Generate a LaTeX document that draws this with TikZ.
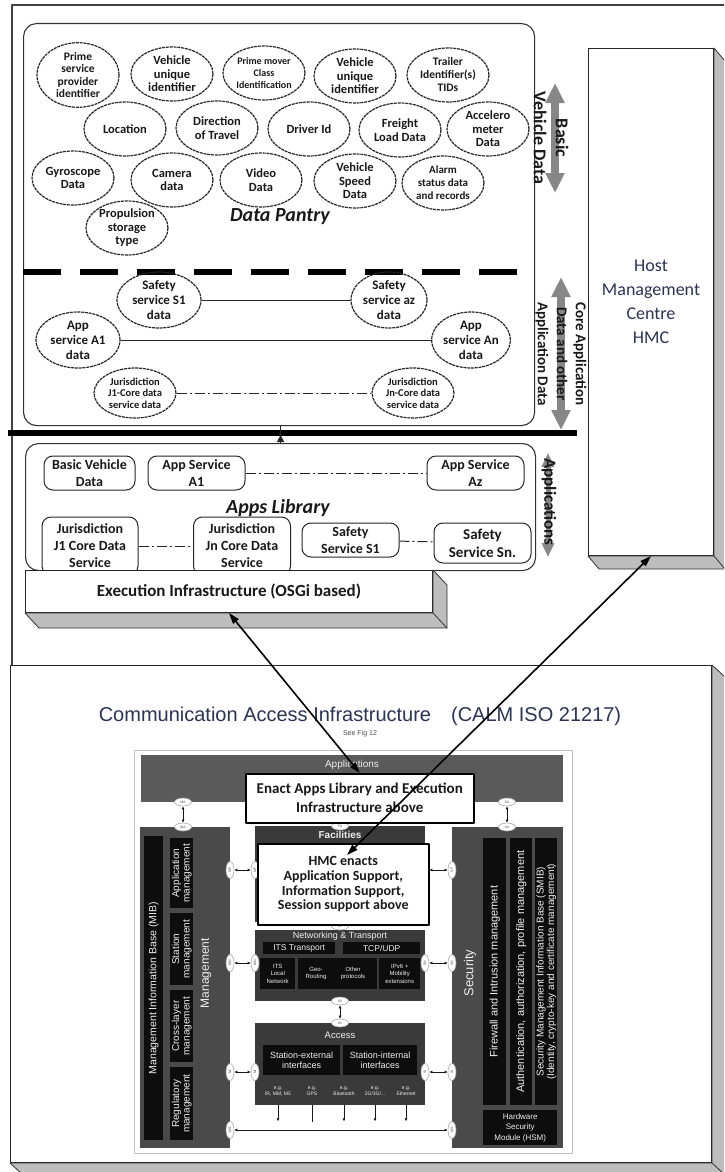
\documentclass[tikz,border=0pt]{standalone}
\usepackage{fontspec}
\setmainfont{Carlito}
\newfontfamily\arialf{Liberation Sans}
\usetikzlibrary{shapes.geometric,arrows.meta,calc}

\definecolor{inkblue}{HTML}{2B3450}
\definecolor{sidegray}{HTML}{BDBDBD}
\definecolor{flowgray}{HTML}{878787}
\definecolor{calmbar}{HTML}{5A5A5A}
\definecolor{calmcol}{HTML}{4A4A4A}
\definecolor{calmblk}{HTML}{3A3A3A}
\definecolor{calmin}{HTML}{0D0D0D}
\definecolor{calmtxt}{HTML}{EEEEEE}

% font helpers: Arial-like sans and bold Calibri-like text
\newcommand\cf[2]{\arialf\fontsize{#1}{#2}\selectfont}
\newcommand\cbf[2]{\bfseries\fontsize{#1}{#2}\selectfont}

% right and bottom faces of a raised (3D) box
\newcommand\raisedfaces[3]{%
  \filldraw[fill=sidegray, draw=black!80, line width=0.8pt]
    (#1.north east) -- ++(#2,#3) -- ($(#1.south east)+(#2,#3)$)
    -- ($(#1.south west)+(#2,#3)$) -- (#1.south west) -- (#1.south east) -- cycle;
  \draw[black!80, line width=0.8pt] (#1.south east) -- ++(#2,#3);}

\begin{document}
\begin{tikzpicture}[x=1pt, y=-1pt, line join=round,
  dataov/.style={ellipse, draw=black!85, line width=1.2pt, dash pattern=on 3pt off 0.8pt,
    minimum width=82pt, minimum height=54pt, inner sep=0pt, align=center,
    text=black!90, font=\cbf{12.5}{13.5}},
  coreov/.style={dataov, minimum width=84pt, minimum height=56pt, font=\cbf{13}{15}},
  jurov/.style={dataov, minimum width=82pt, minimum height=50pt, font=\cbf{10.5}{11.5}},
  appbox/.style={draw=black!85, line width=1pt, rounded corners=9pt, fill=white,
    minimum width=97pt, minimum height=34pt, inner sep=1pt, align=center,
    text=black!90, font=\cbf{14}{17}},
  panel/.style={draw=black!80, line width=1.1pt, rounded corners=13pt, anchor=north west, inner sep=0pt},
  flatbox/.style={draw=black!85, line width=1pt, fill=white, anchor=north west, inner sep=0pt},
  link/.style={black!85, line width=1pt},
  dashdot/.style={link, dash pattern=on 10pt off 3pt on 2pt off 3pt},
  flow/.style={flowgray, line width=8pt, {Triangle[length=20pt,width=18pt]}-{Triangle[length=20pt,width=18pt]}},
  flowsmall/.style={flowgray, line width=5pt, {Triangle[length=14pt,width=12pt]}-{Triangle[length=14pt,width=12pt]}},
  sidelabel/.style={rotate=-90, align=center, text=black!90},
  bigarrow/.style={black, line width=1.6pt, {Triangle[length=11pt,width=7pt]}-{Triangle[length=11pt,width=7pt]}},
  calmblock/.style={anchor=north west, inner sep=0pt, draw=none, fill=#1},
  inbox/.style={anchor=north west, inner sep=0pt, fill=calmin, text=calmtxt, align=center},
  ctext/.style={text=calmtxt, align=center, inner sep=0pt},
  saph/.style={ellipse, fill=white, draw=black!35, line width=0.6pt, minimum width=17pt,
    minimum height=8pt, inner sep=0pt, text=black!70, font=\cf{3.5}{3.5}},
  sapv/.style={saph, rotate=90},
  sapar/.style={black!90, line width=1pt, {Latex[length=3pt,width=3pt]}-{Latex[length=3pt,width=3pt]}},
  egar/.style={black!90, line width=0.8pt, -{Latex[length=3pt,width=3pt]}},
  notebox/.style={draw=black, line width=1.5pt, fill=white, anchor=north west, inner sep=0pt,
    align=center, text=black!90},
]
\useasboundingbox (0,0) rectangle (724,1172);
\fill[white] (0,0) rectangle (724,1172);
\clip (0,0) rectangle (724,1172);

% outer frame of the vehicle platform
\draw[black!75, line width=1.5pt] (740,5) -- (12,5) -- (12,665);

% ---------------- Data pantry ----------------
\node[panel, minimum width=511pt, minimum height=402pt] (dp) at (23,23) {};
\node[dataov, font=\cbf{11.5}{12.5}] (psp) at (78,75) {Prime\\service\\provider\\identifier};
\node[dataov] (vui1) at (172,74) {Vehicle\\unique\\identifier};
\node[dataov, font=\cbf{10}{12}] (pmc) at (264,73) {Prime mover\\Class\\Identification};
\node[dataov] (vui2) at (355,76) {Vehicle\\unique\\identifier};
\node[dataov, font=\cbf{11.5}{13}] (tid) at (448,75) {Trailer\\Identifier(s)\\TIDs};
\node[dataov] (loc) at (125,129) {Location};
\node[dataov] (dir) at (217,128) {Direction\\of Travel};
\node[dataov] (drv) at (309,129) {Driver Id};
\node[dataov] (frt) at (400,130) {Freight\\Load Data};
\node[dataov] (acm) at (488,129) {Accelero\\meter\\Data};
\node[dataov] (gyr) at (73,178) {Gyroscope\\Data};
\node[dataov] (cam) at (172,180) {Camera\\data};
\node[dataov] (vid) at (261,180) {Video\\Data};
\node[dataov] (spd) at (355,181) {Vehicle\\Speed\\Data};
\node[dataov, font=\cbf{11}{13}] (alm) at (443,183) {Alarm\\status data\\and records};
\node[dataov] (prp) at (127,228) {Propulsion\\storage\\type};
\node[font=\bfseries\itshape\fontsize{20}{24}\selectfont, text=black!90] (dptitle) at (280,217) {Data Pantry};

% split between basic vehicle data and application data
\draw[black, line width=5.5pt, dash pattern=on 38pt off 19pt] (23,272) -- (520,272);

\node[coreov] (ss1d) at (159,300) {Safety\\service S1\\data};
\node[coreov, minimum width=76pt] (ssad) at (389,300) {Safety\\service az\\data};
\node[coreov] (aa1d) at (78,340) {App\\service A1\\data};
\node[coreov, minimum width=76pt] (aand) at (471,340) {App\\service An\\data};
\node[jurov] (j1d) at (135,393) {Jurisdiction\\J1-Core data\\service data};
\node[jurov] (jnd) at (413,393) {Jurisdiction\\Jn-Core data\\service data};
\draw[link] (ss1d) -- (ssad);
\draw[link] (aa1d) -- (aand);
\draw[dashdot] (j1d) -- (jnd);

% data flows beside the pantry
\coordinate (bvdtop) at (555,83);
\coordinate (bvdbot) at (555,193);
\draw[flow] (bvdtop) -- (bvdbot);
\node[sidelabel, font=\cbf{18}{22}] (bvdlab) at (551,138) {Basic\\Vehicle Data};
\coordinate (cadtop) at (561,277);
\coordinate (cadbot) at (561,430);
\draw[flow] (cadtop) -- (cadbot);
\node[sidelabel, font=\cbf{15}{19}] (cadlab) at (561,354) {Core Application\\Data and other\\Application Data};

% bus bar
\draw[black, line width=6pt] (8,433) -- (577,433);

% ---------------- Apps library ----------------
\node[panel, minimum width=510pt, minimum height=127pt] (al) at (25,443) {};
\draw[link] (al.north) -- (al.north |- dp.south);
\draw[link, -{Triangle[length=7pt,width=7pt]}] (al.north) -- ++(0,-8);
\node[appbox, minimum width=91pt] (bvd) at (89.5,473) {Basic Vehicle\\Data};
\node[appbox] (as1) at (196.5,473) {App Service\\A1};
\node[appbox] (asz) at (475.5,473) {App Service\\Az};
\node[appbox, minimum width=96pt, minimum height=58pt] (jc1) at (90,546) {Jurisdiction\\J1 Core Data\\Service};
\node[appbox, minimum height=58pt] (jcn) at (242,546) {Jurisdiction\\Jn Core Data\\Service};
\node[appbox] (ss1) at (350.5,540) {Safety\\Service S1};
\node[appbox, minimum height=40pt, font=\cbf{15}{18}] (ssn) at (482.5,543) {Safety\\Service Sn.};
\draw[dashdot] (as1) -- (asz);
\draw[dashdot] (jc1) -- (jcn);
\draw[dashdot] (ss1) -- (ssn);
\node[font=\bfseries\itshape\fontsize{20}{24}\selectfont, text=black!90] (altitle) at (278,508) {Apps Library};
\coordinate (aptop) at (548,453);
\coordinate (apbot) at (548,557);
\draw[flowsmall] (aptop) -- (apbot);
\node[sidelabel, font=\cbf{17}{20}] (aplab) at (549,502) {Applications};

% execution infrastructure
\node[flatbox, minimum width=407pt, minimum height=42pt, text=black!90, font=\cbf{17}{20}] (exec) at (25,570) {Execution Infrastructure (OSGi based)};
\raisedfaces{exec}{14}{15}

% host management centre
\node[flatbox, minimum width=125pt, minimum height=507pt, align=center, text=inkblue, font=\fontsize{18}{24}\selectfont] (hmc) at (588,48) {Host\\Management\\Centre\\HMC};
\raisedfaces{hmc}{11}{13}

% ---------------- Communication access infrastructure ----------------
\node[flatbox, minimum width=701pt, minimum height=497pt] (calm) at (10,665) {};
\raisedfaces{calm}{13}{12}
\node[text=inkblue, font=\cf{20}{24}] (calmtitle) at (360,716) {Communication Access Infrastructure\hspace{1em}(CALM ISO 21217)};
\node[text=black!70, font=\cf{7}{8}] (seefig) at (360,734) {See Fig 12};

\node[flatbox, draw=black!25, line width=1.2pt, minimum width=438pt, minimum height=403pt] (fig) at (134,750) {};
\node[calmblock=calmbar, minimum width=422pt, minimum height=47pt] (appbar) at (141,755) {};
\node[ctext, font=\cf{10}{10}] (appbartxt) at (352,765) {Applications};
\node[calmblock=calmcol, minimum width=90pt, minimum height=321pt] (mgmt) at (140,827) {};
\node[calmblock=calmcol, minimum width=111pt, minimum height=321pt] (secu) at (452,827) {};
\node[calmblock=calmblk, minimum width=170pt, minimum height=96pt] (fac) at (255,826) {};
\node[calmblock=calmblk, minimum width=170pt, minimum height=71pt] (net) at (255,930) {};
\node[calmblock=calmblk, minimum width=170pt, minimum height=82pt] (accl) at (255,1023) {};

\node[ctext, font=\bfseries\cf{10}{10}] (factxt) at (340,835) {Facilities};

% networking & transport layer
\node[ctext, font=\cf{9}{9}] (nettxt) at (340,936) {Networking \& Transport};
\node[inbox, minimum width=72pt, minimum height=12pt, font=\cf{8.5}{8.5}] (itst) at (263,942) {ITS Transport};
\node[inbox, minimum width=77pt, minimum height=12pt, font=\cf{8.5}{8.5}] (tcp) at (343,942) {TCP/UDP};
\node[inbox, minimum width=35pt, minimum height=31pt, font=\cf{6}{7.5}] (itsl) at (260,958) {ITS\\Local\\Network};
\node[inbox, minimum width=79pt, minimum height=31pt] (geo) at (298,958) {};
\node[ctext, font=\cf{6}{7.5}] (geotxt) at (316,973.5) {Geo-\\Routing};
\node[ctext, font=\cf{6}{7.5}] (othtxt) at (353,973.5) {Other\\protocols};
\node[inbox, minimum width=41pt, minimum height=31pt, font=\cf{6}{7.5}] (ipv6) at (379,958) {IPv6 +\\Mobility\\extensions};

% access layer
\node[ctext, font=\cf{9.5}{9.5}] (acctxt) at (340,1035) {Access};
\node[inbox, minimum width=77pt, minimum height=30pt, font=\cf{9}{10.5}] (sext) at (263,1045) {Station-external\\interfaces};
\node[inbox, minimum width=74pt, minimum height=30pt, font=\cf{9}{10.5}] (sint) at (343,1045) {Station-internal\\interfaces};
\node[ctext, font=\cf{5}{6}] (eg1) at (278,1091) {e.g.\\IR, MM, M5};
\node[ctext, font=\cf{5}{6}] (eg2) at (312,1091) {e.g.\\GPS};
\node[ctext, font=\cf{5}{6}] (eg3) at (344,1091) {e.g.\\Bluetooth};
\node[ctext, font=\cf{5}{6}] (eg4) at (375,1091) {e.g.\\2G/3G/...};
\node[ctext, font=\cf{5}{6}] (eg5) at (406,1091) {e.g.\\Ethernet};
\foreach \k in {1,3,4,5} \draw[egar] (eg\k |- accl.south) -- ++(0,16);
\draw[black!90, line width=0.8pt] (eg2 |- accl.south) -- ++(0,17);

% management entity
\node[inbox, minimum width=19pt, minimum height=304pt] (mib) at (144,836) {};
\node[ctext, rotate=90, font=\cf{10.5}{10.5}] (mibtxt) at (mib.center) {Management Information Base (MIB)};
\node[inbox, minimum width=23pt, minimum height=70pt] (amg) at (170,838) {};
\node[ctext, rotate=90, font=\cf{10}{10.5}] (amgtxt) at (amg.center) {Application\\management};
\node[inbox, minimum width=23pt, minimum height=72pt] (smg) at (170,913) {};
\node[ctext, rotate=90, font=\cf{10}{10.5}] (smgtxt) at (smg.center) {Station\\management};
\node[inbox, minimum width=23pt, minimum height=72pt] (cmg) at (170,990) {};
\node[ctext, rotate=90, font=\cf{10}{10.5}] (cmgtxt) at (cmg.center) {Cross-layer\\management};
\node[inbox, minimum width=23pt, minimum height=73pt] (rmg) at (170,1067) {};
\node[ctext, rotate=90, font=\cf{10}{10.5}] (rmgtxt) at (rmg.center) {Regulatory\\management};
\node[ctext, rotate=90, font=\cf{12}{12}] (mgmttxt) at (206,973) {Management};

% security entity
\node[ctext, rotate=90, font=\cf{13}{13}] (secutxt) at (470,973) {Security};
\node[inbox, minimum width=23pt, minimum height=267pt] (fw) at (483,838) {};
\node[ctext, rotate=90, font=\cf{11}{11}] (fwtxt) at (fw.center) {Firewall and Intrusion management};
\node[inbox, minimum width=22pt, minimum height=267pt] (auth) at (510,838) {};
\node[ctext, rotate=90, font=\cf{11}{11}] (authtxt) at (auth.center) {Authentication, authorization, profile management};
\node[inbox, minimum width=22pt, minimum height=267pt] (smib) at (535,838) {};
\node[ctext, rotate=90, font=\cf{10}{10.5}] (smibtxt) at (smib.center) {Security Management Information Base (SMIB)\\(Identity, crypto-key and certificate management)};
\node[inbox, minimum width=74pt, minimum height=35pt, font=\cf{8}{10.5}] (hsm) at (483,1110) {Hardware\\Security\\Module (HSM)};

% service access points
\node[saph] (ma1) at (183,802) {MA};
\node[saph] (ma2) at (183,827) {MA};
\node[saph] (sa1) at (507,802) {SA};
\node[saph] (sa2) at (507,827) {SA};
\node[saph] (fa2) at (340,826) {FA};
\node[sapv] (mf1) at (230,870) {MF};
\node[sapv] (mf2) at (255,870) {MF};
\node[sapv] (sf1) at (425,870) {SF};
\node[sapv] (sf2) at (452,870) {SF};
\node[saph] (nf) at (340,926) {NF};
\node[sapv] (mn1) at (230,963) {MN};
\node[sapv] (mn2) at (255,963) {MN};
\node[sapv] (sn1) at (425,963) {SN};
\node[sapv] (sn2) at (452,963) {SN};
\node[saph] (in1) at (340,1001) {IN};
\node[saph] (in2) at (340,1023) {IN};
\node[sapv] (mi1) at (230,1072) {MI};
\node[sapv] (mi2) at (255,1072) {MI};
\node[sapv] (si1) at (425,1072) {SI};
\node[sapv] (si2) at (452,1072) {SI};
\node[sapv] (ms1) at (230,1130) {MS};
\node[sapv] (ms2) at (452,1130) {MS};
\draw[sapar] (ma1) -- (ma2);
\draw[sapar] (sa1) -- (sa2);
\draw[sapar] (mf1) -- (mf2);
\draw[sapar] (sf1) -- (sf2);
\draw[sapar] (mn1) -- (mn2);
\draw[sapar] (sn1) -- (sn2);
\draw[sapar] (in1) -- (in2);
\draw[sapar] (mi1) -- (mi2);
\draw[sapar] (si1) -- (si2);
\draw[sapar] (ms1) -- (ms2);

% notes placed over the reference architecture
\node[notebox, minimum width=228pt, minimum height=49pt, font=\cbf{15}{19}] (enact) at (245,773) {Enact Apps Library and Execution\\Infrastructure above};
\node[notebox, minimum width=171pt, minimum height=81pt, font=\cbf{14}{14.7}] (hmcen) at (257,843) {HMC enacts\\Application Support,\\Information Support,\\Session support above};

% links from the platform down to the communication stack
\coordinate (hmcin) at (347,855);
\draw[bigarrow] (exec.south) -- (enact.north);
\draw[bigarrow] (hmc.south) -- (hmcin);
\end{tikzpicture}
\end{document}
